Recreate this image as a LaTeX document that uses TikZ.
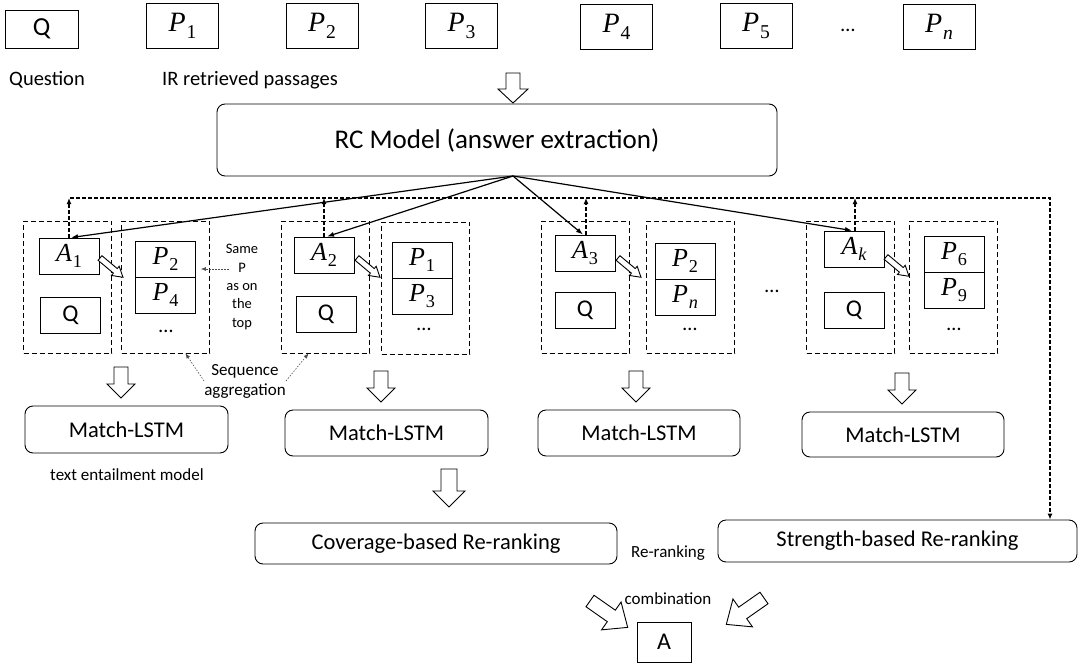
\documentclass[tikz,border=0pt]{standalone}
\usepackage{fontspec}
\setmainfont{Carlito}
\newfontfamily\mfont{Liberation Serif}
\newcommand\mv[2]{{\mfont\itshape #1}\kern0.03em\raisebox{-0.25em}{\scalebox{0.7}{\mfont #2}}}
\usetikzlibrary{arrows.meta}
\begin{document}
\begin{tikzpicture}[x=1pt,y=-1pt,
  sbox/.style={draw, line width=0.9pt, inner sep=0pt},
  topbox/.style={sbox, minimum width=72, minimum height=45, font=\fontsize{28}{32}\selectfont},
  rbox/.style={draw, line width=0.9pt, rounded corners=8pt, inner sep=0pt, font=\fontsize{22.5}{27}\selectfont},
  dbox/.style={draw, line width=0.9pt, dash pattern=on 5pt off 3pt, inner sep=0pt, minimum width=88, minimum height=132},
  abox/.style={sbox, minimum width=60, minimum height=36, font=\fontsize{26}{30}\selectfont},
  qbox/.style={sbox, minimum width=60, minimum height=36, font=\fontsize{24}{28}\selectfont},
  lbl/.style={inner sep=0pt, font=\fontsize{20.5}{24}\selectfont},
  slbl/.style={inner sep=0pt, font=\fontsize{17}{20}\selectfont, align=center},
  sol/.style={line width=1.2pt, -{Latex[length=7pt,width=5pt]}},
  fb/.style={line width=1.2pt, dash pattern=on 4pt off 2pt},
  fbarr/.style={fb, -{Latex[length=6pt,width=5pt]}},
  dotarr/.style={line width=0.6pt, dash pattern=on 1.5pt off 1.5pt, black!70, -{Latex[length=5pt,width=4pt]}},
  pics/blk/.style n args={4}{code={\draw[line width=0.9pt, fill=white] (0,-#4) -- ({#1-#2},-#4) -- ({#1-#2},-#3) -- (#1,0) -- ({#1-#2},#3) -- ({#1-#2},#4) -- (0,#4) -- cycle;}}
]
\useasboundingbox (0,0) rectangle (1081,664);

% top row
\node[sbox, minimum width=73, minimum height=38, font=\fontsize{26}{30}\selectfont] (q0) at (41.5,29) {Q};
\node[topbox] (tp1) at (182.5,25.5) {\mv{P}{1}};
\node[topbox] (tp2) at (322,25.5) {\mv{P}{2}};
\node[topbox] (tp3) at (461.5,25.5) {\mv{P}{3}};
\node[topbox] (tp4) at (616.5,27) {\mv{P}{4}};
\node[topbox] (tp5) at (756,25.5) {\mv{P}{5}};
\node[lbl] (tdots) at (848,30) {\dots};
\node[topbox] (tpn) at (939,27) {\mv{P}{\itshape n}};
\node[lbl] (qlbl) at (47,80) {Question};
\node[lbl] (irlbl) at (250,80) {IR retrieved passages};

\pic[rotate=-90] at (513,73) {blk={30}{14}{15}{7}};

% RC model
\node[rbox, minimum width=560, minimum height=72, font=\fontsize{27}{32}\selectfont] (rc) at (497,140) {RC Model (answer extraction)};
\coordinate (rcout) at (513,176);

% group 1
\node[dbox] (g1l) at (67.5,287) {};
\node[dbox] (g1r) at (165.5,287) {};
\node[abox] (a1) at (69,256) {\mv{A}{1}};
\node[qbox] (q1) at (70.5,315) {Q};
\node[abox] (g1p2) at (165.5,259) {\mv{P}{2}};
\node[abox] (g1p4) at (165.5,295) {\mv{P}{4}};
\node[lbl] (g1d) at (166,331) {\dots};
\pic[rotate=-40] at (100,258) {blk={30}{10}{6}{3}};

% group 2
\node[dbox] (g2l) at (325.5,287) {};
\node[dbox] (g2r) at (425.5,288) {};
\node[abox] (a2) at (324,255) {\mv{A}{2}};
\node[qbox] (q2) at (326,314) {Q};
\node[abox] (g2p1) at (422,260) {\mv{P}{1}};
\node[abox] (g2p3) at (422,296) {\mv{P}{3}};
\node[lbl] (g2d) at (424,329) {\dots};
\pic[rotate=-40] at (357,258) {blk={30}{10}{6}{3}};

% group 3
\node[dbox] (g3l) at (585.5,287) {};
\node[dbox] (g3r) at (690.5,287) {};
\node[abox] (a3) at (585,253) {\mv{A}{3}};
\node[qbox] (q3) at (585,310) {Q};
\node[abox] (g3p2) at (685,261) {\mv{P}{2}};
\node[abox] (g3pn) at (685,297) {\mv{P}{\itshape n}};
\node[lbl] (g3d) at (690,329) {\dots};
\pic[rotate=-40] at (618,258) {blk={30}{10}{6}{3}};
\node[lbl] (mdots) at (772,291) {\dots};

% group 4
\node[dbox] (g4l) at (850.5,287) {};
\node[dbox] (g4r) at (953.5,287) {};
\node[abox] (ak) at (854,249) {\mv{A}{\itshape k}};
\node[qbox] (q4) at (854,310) {Q};
\node[abox] (g4p6) at (954,254) {\mv{P}{6}};
\node[abox] (g4p9) at (954,290) {\mv{P}{9}};
\node[lbl] (g4d) at (954,329) {\dots};
\pic[rotate=-40] at (886,257) {blk={30}{10}{6}{3}};

% solid arrows from RC model
\draw[sol] (rcout) -- ([xshift=2pt]a1.north);
\draw[sol] (rcout) -- ([xshift=3pt]a2.north);
\draw[sol] (rcout) -- ([xshift=-2pt]a3.north);
\draw[sol] (rcout) -- ([xshift=-2pt]ak.north);

% feedback dashed line
\coordinate (fbL) at (70,198);
\coordinate (fbR) at (1050,198);
\draw[fbarr] (a1.north) -- (a1.north |- fbL);
\draw[fbarr] (a2.north) -- (a2.north |- fbL);
\draw[fbarr] ([xshift=1pt]a3.north) -- ([xshift=1pt]a3.north |- fbL);
\draw[fbarr] ([xshift=1pt]ak.north) -- ([xshift=1pt]ak.north |- fbL);

% annotations
\node[inner sep=0pt, font=\fontsize{14.5}{18.3}\selectfont, align=center] (samep) at (242,287) {Same\\P\\as on\\the\\top};
\draw[dotarr] ([xshift=3pt,yshift=18pt]samep.west) -- ([xshift=5pt,yshift=-10pt]g1p2.east);
\node[slbl] (seq) at (245,381) {Sequence\\aggregation};
\draw[dotarr] (seq.west) -- ([xshift=20pt]g1r.south);
\draw[dotarr] (seq.east) -- ([xshift=-17pt]g2l.south);

% down arrows to Match-LSTM
\pic[rotate=-90] at (121,367) {blk={31}{14}{14}{7}};
\pic[rotate=-90] at (381,371) {blk={31}{14}{14}{7}};
\pic[rotate=-90] at (636,371) {blk={31}{14}{14}{7}};
\pic[rotate=-90] at (902,373) {blk={31}{14}{14}{7}};

\node[rbox, minimum width=203, minimum height=47] (ml1) at (126.5,429.5) {Match-LSTM};
\node[rbox, minimum width=203, minimum height=46] (ml2) at (386.5,433) {Match-LSTM};
\node[rbox, minimum width=202, minimum height=46] (ml3) at (639,433) {Match-LSTM};
\node[rbox, minimum width=202, minimum height=45] (ml4) at (903,434.5) {Match-LSTM};
\node[slbl] (tem) at (127,475) {text entailment model};

\pic[rotate=-90] at (449,469) {blk={38}{16}{16}{8}};

% re-ranking
\node[rbox, minimum width=362, minimum height=41] (cov) at (436,543.5) {Coverage-based Re-ranking};
\node[rbox, minimum width=359, minimum height=42] (str) at (897.5,541) {Strength-based Re-ranking};
\draw[fbarr] (fbL) -- (fbR) -- (fbR |- str.north);

\node[slbl] (rr) at (668,553) {Re-ranking};
\node[slbl] (comb) at (668,599) {combination};
\node[sbox, minimum width=54, minimum height=40, font=\fontsize{24}{28}\selectfont] (ans) at (664,642) {A};
\pic[rotate=-35] at (590,601) {blk={46}{20}{17}{7}};
\pic[rotate=-145] at (764,598) {blk={46}{20}{17}{7}};
\end{tikzpicture}
\end{document}
